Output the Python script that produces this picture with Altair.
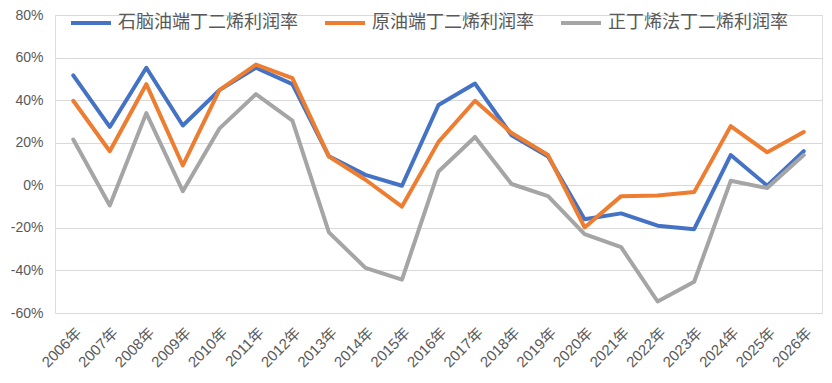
import altair as alt
import pandas as pd

years = ["2006年", "2007年", "2008年", "2009年", "2010年", "2011年", "2012年",
         "2013年", "2014年", "2015年", "2016年", "2017年", "2018年", "2019年",
         "2020年", "2021年", "2022年", "2023年", "2024年", "2025年", "2026年"]

series_names = ["石脑油端丁二烯利润率", "原油端丁二烯利润率", "正丁烯法丁二烯利润率"]

naphtha = [51.6, 27.4, 55.2, 28.1, 44.7, 55.2, 47.5, 13.6, 4.9, -0.2, 37.7,
           47.8, 23.5, 13.5, -16.0, -13.2, -19.0, -20.6, 14.2, -0.2, 16.0]
crude = [39.7, 16.0, 47.5, 9.3, 44.7, 56.7, 50.3, 13.5, 2.6, -10.0, 20.4,
         39.7, 24.6, 14.2, -19.8, -5.1, -4.8, -3.2, 27.8, 15.5, 25.0]
butene = [21.5, -9.5, 33.9, -2.8, 26.6, 42.8, 30.4, -22.1, -38.8, -44.3, 6.5,
          22.7, 0.6, -5.1, -22.9, -29.1, -54.6, -45.3, 2.1, -1.3, 14.2]

y_ticks = [-60, -40, -20, 0, 20, 40, 60, 80]
colors = ["#4472C4", "#ED7D31", "#A5A5A5"]

rows = []
for name, vals in zip(series_names, [naphtha, crude, butene]):
    for yr, v in zip(years, vals):
        rows.append({"year": yr, "value": v, "series": name})
df = pd.DataFrame(rows)

label_font = "Liberation Sans, Noto Sans CJK SC"

chart = alt.Chart(df).mark_line(
    strokeWidth=4, strokeJoin="round", strokeCap="round"
).encode(
    x=alt.X("year:N", sort=years,
            scale=alt.Scale(type="point", padding=0.5),
            axis=alt.Axis(title=None, labelAngle=-45, labelFontSize=15,
                          labelColor="#595959", labelFont=label_font,
                          domain=False, ticks=False, grid=False,
                          labelPadding=12)),
    y=alt.Y("value:Q",
            scale=alt.Scale(domain=[-60, 80], nice=False, zero=False),
            axis=alt.Axis(title=None, values=y_ticks,
                          labelExpr="datum.value + '%'",
                          grid=True, gridColor="#D9D9D9", gridWidth=1.2,
                          domain=False, ticks=False, labelFontSize=14,
                          labelColor="#595959", labelFont=label_font,
                          labelPadding=12)),
    color=alt.Color("series:N", sort=series_names,
                    scale=alt.Scale(domain=series_names, range=colors),
                    legend=alt.Legend(title=None, orient="none",
                                      legendX=14, legendY=-14,
                                      direction="horizontal",
                                      symbolType="stroke", symbolSize=1600,
                                      symbolStrokeWidth=4,
                                      labelFontSize=18, labelColor="#595959",
                                      labelFont="Noto Sans CJK SC",
                                      columnPadding=19, padding=0,
                                      labelLimit=0, labelOffset=5)),
    order=alt.Order("series_order:Q"),
).transform_calculate(
    series_order="indexof(['石脑油端丁二烯利润率','原油端丁二烯利润率','正丁烯法丁二烯利润率'], datum.series)"
).properties(
    width=767, height=298,
    autosize=alt.AutoSizeParams(type="none"),
    padding={"left": 47, "top": 7, "right": 2, "bottom": 60},
).configure_view(stroke=None).configure(background="white")

chart.save("out.html", embed_options={"renderer": "svg", "actions": False})
